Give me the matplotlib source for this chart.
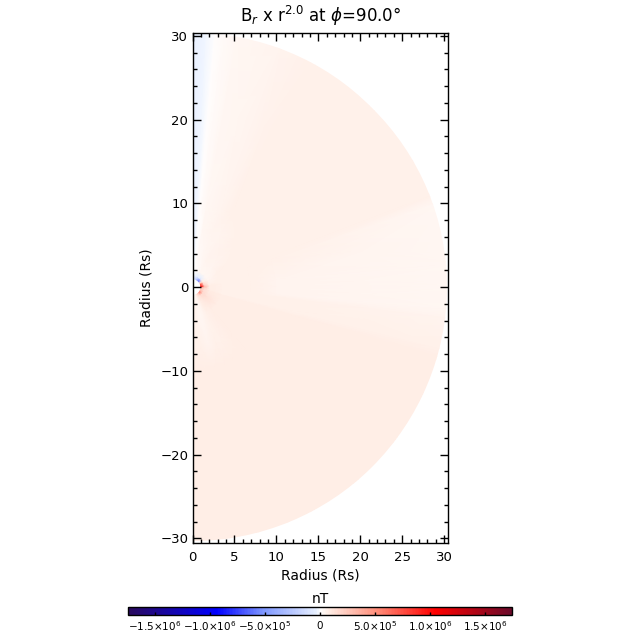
import numpy as np
import matplotlib
matplotlib.use("Agg")
import matplotlib.pyplot as plt
from matplotlib.colors import LinearSegmentedColormap, Normalize
from matplotlib.cm import ScalarMappable
from matplotlib.patches import Circle
from matplotlib.ticker import MultipleLocator

plt.rcParams.update({"font.family": "DejaVu Sans", "mathtext.fontset": "dejavusans"})

# last radius node lies past the domain edge; the mesh is clipped to that edge
radius = [1, 1.4, 2, 3.5, 7, 10, 32]
domain_radius = 30.3
latitude = [90, 87, 85, 83, 80, 70, 62, 45, 30, 21, 19, 5, 0, -5, -7, -14, -16,
            -25, -37, -50, -62, -68, -75, -82, -90]
# B_r * r^2 in units of 1e4 nT, one row per latitude, one column per radius
br_rows = [
    [-4, -4, -4, -3.5, -3.5, -3.5, -3.5],
    [-3, -3, -2.5, -2.5, -2.5, -2.5, -2],
    [-3, -2, -1, -0.5, 0, 0, 0],
    [-4, -2, 0, 1, 1, 1.5, 2],
    [-8, -2, 1, 2, 3, 3, 3.5],
    [-15, -3, 2, 3.5, 4.5, 4.5, 5],
    [-25, -3, 3, 4.5, 5, 5.5, 5.8],
    [-65, -5, 3, 5, 5.5, 5.5, 5.5],
    [15, 6, 4, 5.5, 5.5, 5.5, 5.5],
    [50, 10, 5, 5.5, 5.5, 5.5, 5.5],
    [70, 12, 5, 5.5, 5.5, 5.5, 4],
    [100, 25, 7, 5.5, 5.5, 4.5, 4],
    [110, 30, 8, 6, 5.5, 4.5, 4],
    [40, 20, 8, 6, 5.5, 5, 4],
    [30, 18, 8, 6, 5.5, 5.5, 5],
    [25, 14, 9, 6, 5.5, 5.5, 5.5],
    [25, 14, 9, 7, 7, 7, 7],
    [30, 16, 10, 7, 7, 7, 7],
    [60, 16, 13, 8, 7, 7, 7],
    [25, 13, 10, 7, 7, 7, 7],
    [12, 9, 7, 6, 6, 7, 7],
    [6, 6, 5, 5, 5.5, 7, 7],
    [4, 4, 4, 4, 4.5, 7, 7],
    [5, 5, 5, 5, 5.5, 7, 7],
    [6, 6, 6, 6, 6.5, 7, 7],
]
x_ticks = [0, 5, 10, 15, 20, 25, 30]
y_ticks = [-30, -20, -10, 0, 10, 20, 30]
cbar_ticks = [-1.5e6, -1.0e6, -5.0e5, 0, 5.0e5, 1.0e6, 1.5e6]
cbar_labels = [r"$-1.5{\times}10^{6}$", r"$-1.0{\times}10^{6}$", r"$-5.0{\times}10^{5}$", "0",
               r"$5.0{\times}10^{5}$", r"$1.0{\times}10^{6}$", r"$1.5{\times}10^{6}$"]

cmap = LinearSegmentedColormap.from_list("br", [
    (0.0, "#2a0a5c"), (0.23, "#0000ff"), (0.35, "#7d96ff"), (0.49, "#e8f0ff"), (0.5, "#ffffff"),
    (0.52, "#ffefe7"), (0.65, "#ff8c78"), (0.80, "#ff0000"), (1.0, "#6a0a2a")])
norm = Normalize(-1.745e6, 1.745e6)

fig = plt.figure(figsize=(6.4, 6.4), dpi=100)
W = H = 640.0
ax = fig.add_axes([192.5 / W, 1 - 543 / H, 255.5 / W, 510 / H])

rr, ll = np.meshgrid(radius, np.radians(latitude))
mesh = ax.pcolormesh(rr * np.cos(ll), rr * np.sin(ll), np.array(br_rows) * 1e4,
                     cmap=cmap, norm=norm, shading="gouraud", rasterized=True)
mesh.set_clip_path(Circle((0, 0), domain_radius, transform=ax.transData))
ax.set_xlim(0, 30.45)
ax.set_ylim(-30.55, 30.35)
ax.set_xticks(x_ticks)
ax.set_yticks(y_ticks)
ax.xaxis.set_minor_locator(MultipleLocator(1))
ax.yaxis.set_minor_locator(MultipleLocator(2))
ax.tick_params(which="major", direction="in", top=True, right=True, length=6, width=1,
               labelsize=9.5, pad=3, color="black")
ax.tick_params(axis="x", which="major", pad=6)
ax.tick_params(which="minor", direction="in", top=True, right=True, length=3, width=1)
for s in ax.spines.values():
    s.set_linewidth(1)
ax.set_xlabel("Radius (Rs)", fontsize=10, labelpad=3)
ax.set_ylabel("Radius (Rs)", fontsize=10, labelpad=5)
ax.set_title(r"B$_{r}$ x r$^{2.0}$ at $\phi$=90.0$\degree$", fontsize=12, pad=8)

cax = fig.add_axes([128 / W, 1 - 615 / H, 384 / W, 8 / H])
cb = fig.colorbar(ScalarMappable(norm=norm, cmap=cmap), cax=cax, orientation="horizontal")
cb.set_ticks(cbar_ticks)
cb.set_ticklabels(cbar_labels)
cb.ax.minorticks_off()
cb.ax.tick_params(direction="in", length=2.5, width=1, labelsize=7.5, pad=8)
for lab in cax.get_xticklabels():
    lab.set_verticalalignment("center")
cb.outline.set_linewidth(1)
cax.set_title("nT", fontsize=10, pad=3)

fig.savefig("out.png", dpi=100)
